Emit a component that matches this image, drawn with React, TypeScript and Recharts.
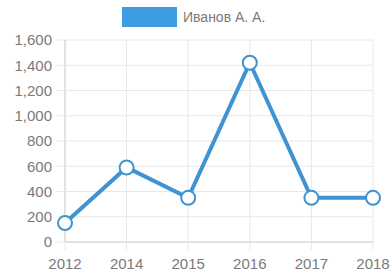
import { LineChart, Line, XAxis, YAxis, CartesianGrid } from 'recharts'

const years = ['2012', '2014', '2015', '2016', '2017', '2018']
const ivanovValues = [150, 590, 350, 1420, 350, 350]
const yTicks = [0, 200, 400, 600, 800, 1000, 1200, 1400, 1600]
const seriesName = 'Иванов А. А.'

const chartData = years.map((year, i) => ({ year, value: ivanovValues[i] }))

const LINE_COLOR = '#3f93d3'
const TEXT_COLOR = '#7a7a7a'
const GRID_COLOR = '#e8e8e8'
const FONT = '"Liberation Sans", Arial, sans-serif'

export default function App() {
  return (
    <div style={{ position: 'absolute', left: 0, top: 0, width: 392, height: 277, background: '#fff', fontFamily: FONT }}>
      <div
        style={{
          position: 'absolute',
          top: 7,
          left: 122,
          display: 'flex',
          alignItems: 'center',
          fontSize: 14,
          color: TEXT_COLOR,
        }}
      >
        <span style={{ display: 'inline-block', width: 55, height: 20, background: '#3d9be0', marginRight: 6 }} />
        {seriesName}
      </div>
      <LineChart
        width={392}
        height={277}
        data={chartData}
        margin={{ top: 40, right: 19, left: 0, bottom: 5 }}
      >
        <CartesianGrid stroke={GRID_COLOR} />
        <XAxis
          dataKey="year"
          height={30}
          tickSize={8}
          tickMargin={8}
          axisLine={{ stroke: '#d0d0d0' }}
          tickLine={{ stroke: GRID_COLOR }}
          tick={{ fill: TEXT_COLOR, fontSize: 15, fontFamily: FONT }}
          interval={0}
        />
        <YAxis
          width={65}
          domain={[0, 1600]}
          ticks={yTicks}
          tickSize={8}
          tickMargin={5}
          axisLine={{ stroke: '#d0d0d0' }}
          tickLine={{ stroke: GRID_COLOR }}
          tick={{ fill: TEXT_COLOR, fontSize: 15, fontFamily: FONT }}
          tickFormatter={(v: number) => v.toLocaleString('en-US')}
        />
        <Line
          type="linear"
          dataKey="value"
          stroke={LINE_COLOR}
          strokeWidth={4}
          dot={{ r: 7, fill: '#fff', stroke: LINE_COLOR, strokeWidth: 2 }}
          isAnimationActive={false}
        />
      </LineChart>
    </div>
  )
}
